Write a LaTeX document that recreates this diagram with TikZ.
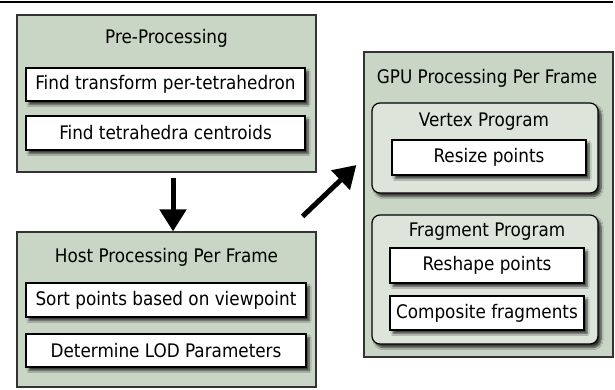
\documentclass[tikz,border=0pt]{standalone}
\usepackage{fontspec}
\setmainfont{DejaVu Sans Condensed}
\usetikzlibrary{arrows.meta,positioning,shadows.blur}

\definecolor{stagefill}{HTML}{C9D5C5}
\definecolor{progfill}{HTML}{DDE5DA}
\definecolor{edgegray}{HTML}{333333}

\tikzset{
  stage/.style={draw=edgegray, fill=stagefill, line width=1.2pt, inner sep=0pt},
  prog/.style={draw=black, fill=progfill, line width=1.2pt, rounded corners=8pt, inner sep=0pt,
    blur shadow={shadow xshift=3pt, shadow yshift=-3.5pt, shadow blur steps=6, shadow opacity=75}},
  task/.style={draw=black, fill=white, line width=1.2pt, inner sep=0pt,
    blur shadow={shadow xshift=3pt, shadow yshift=-3.5pt, shadow blur steps=6, shadow opacity=75}},
  label/.style={inner sep=0pt},
  bigarrow/.style={line width=5pt, -{Triangle[width=26pt,length=22pt]}}
}

\begin{document}
\begin{tikzpicture}[x=1pt,y=-1pt,font=\fontsize{18.7}{22}\selectfont]
  \useasboundingbox (0,0) rectangle (615,389);
  \draw[line width=1.5pt] (0,2) -- (613,2);

  % pre-processing
  \node[stage, minimum width=299pt, minimum height=157pt] (pre) at (166.5,93.5) {};
  \node[label] (pretitle) at (166.5,38) {Pre-Processing};
  \node[task, minimum width=279pt, minimum height=33pt] (transform) at (165.5,84.5) {Find transform per-tetrahedron};
  \node[task, minimum width=279pt, minimum height=34pt] (centroids) at (165.5,133) {Find tetrahedra centroids};

  % host
  \node[stage, minimum width=299pt, minimum height=155pt] (host) at (166.5,309.5) {};
  \node[label] (hosttitle) at (166.5,257) {Host Processing Per Frame};
  \node[task, minimum width=280pt, minimum height=34pt] (sort) at (166,300) {Sort points based on viewpoint};
  \node[task, minimum width=280pt, minimum height=33pt] (lod) at (166,350.5) {Determine LOD Parameters};

  % gpu
  \node[stage, minimum width=249pt, minimum height=305pt] (gpu) at (488.5,204.5) {};
  \node[label] (gputitle) at (487,78) {GPU Processing Per Frame};
  \node[prog, minimum width=226pt, minimum height=90pt] (vertex) at (485,148) {};
  \node[label] (vertextitle) at (484,122) {Vertex Program};
  \node[task, minimum width=194pt, minimum height=35pt] (resize) at (489,157.5) {Resize points};
  \node[prog, minimum width=226pt, minimum height=129pt] (fragment) at (485,279.5) {};
  \node[label] (fragmenttitle) at (487,232) {Fragment Program};
  \node[task, minimum width=194pt, minimum height=35pt] (reshape) at (487,265.5) {Reshape points};
  \node[task, minimum width=194pt, minimum height=34pt] (composite) at (487,313) {Composite fragments};

  \draw[bigarrow] ([xshift=6.5pt,yshift=-5pt]pre.south) -- ([xshift=6.5pt]host.north);
  \draw[bigarrow] ([xshift=-14pt,yshift=15pt]host.north east) -- ([xshift=-7pt,yshift=39.5pt]gpu.west);
\end{tikzpicture}
\end{document}
